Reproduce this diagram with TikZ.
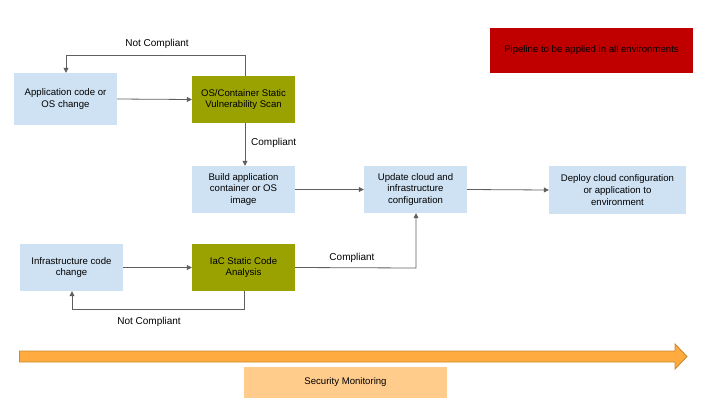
\documentclass[tikz,border=0pt]{standalone}
\usepackage{fontspec}
\setmainfont{Liberation Sans}
\usetikzlibrary{arrows.meta}
\definecolor{lblue}{HTML}{CFE2F3}
\definecolor{olive}{HTML}{99A200}
\definecolor{redbox}{HTML}{C00000}
\definecolor{arrgray}{HTML}{5F5F5F}
\definecolor{orfill}{HTML}{FFAB40}
\definecolor{ordraw}{HTML}{C98A2C}
\definecolor{secfill}{HTML}{FFCC8C}
\begin{document}
\begin{tikzpicture}[x=1pt,y=-1pt,
  every node/.style={font=\fontsize{9.6}{11.6}\selectfont, align=center, inner sep=0pt},
  boxb/.style={fill=lblue, draw=none},
  boxo/.style={fill=olive, draw=none},
  conn/.style={draw=arrgray, line width=0.8pt, -{Triangle[length=5pt,width=5pt]}},
  lbl/.style={font=\fontsize{10}{12}\selectfont}]
\useasboundingbox (0,0) rectangle (720,405);
% boxes
\node[boxb, minimum width=103pt, minimum height=52pt] (app) at (65.5,99) {Application code or\\OS change};
\node[boxo, minimum width=103pt, minimum height=47pt] (scan) at (243.5,99.5) {OS/Container Static\\Vulnerability Scan};
\node[boxb, minimum width=103pt, minimum height=47pt] (build) at (243.5,189.5) {Build application\\container or OS\\image};
\node[boxb, minimum width=103pt, minimum height=47pt] (upd) at (415.5,189.5) {Update cloud and\\infrastructure\\configuration};
\node[boxb, minimum width=137pt, minimum height=48pt] (dep) at (617.5,190) {Deploy cloud configuration\\or application to\\environment};
\node[boxb, minimum width=103pt, minimum height=47pt] (infra) at (71.5,267.5) {Infrastructure code\\change};
\node[boxo, minimum width=103pt, minimum height=47pt] (iac) at (243.5,267.5) {IaC Static Code\\Analysis};
\node[fill=redbox, minimum width=203pt, minimum height=45pt] (red) at (591.5,50.5) {Pipeline to be applied in all environments};
% connectors
\coordinate (c1) at (245,55);
\coordinate (c2) at (66,55);
\draw[conn] (scan.north -| c1) -- (c1) -- (c2) -- (app.north -| c2);
\node[lbl] (nc1) at (157,44) {Not Compliant};
\draw[conn] (app.east) -- (scan.west);
\draw[conn] (scan.south -| c1) -- (build.north -| c1);
\node[lbl, anchor=west] (cp1) at (251,143) {Compliant};
\draw[conn] (build.east) -- (upd.west);
\draw[conn] (upd.east) -- (dep.west);
\draw[conn] (infra.east) -- (iac.west);
\coordinate (c3) at (416,268);
\draw[conn] (iac.east) -- (c3) -- (upd.south -| c3);
\node[lbl] (cp2) at (352,258) {Compliant};
\coordinate (c4) at (244.5,309);
\coordinate (c5) at (72,309);
\draw[conn] (iac.south -| c4) -- (c4) -- (c5) -- (infra.south -| c5);
\node[lbl] (nc2) at (149,322) {Not Compliant};
% timeline arrow
\draw[fill=orfill, draw=ordraw, line width=0.9pt, line join=miter]
  (19.5,351) -- (675,351) -- (675,344) -- (687,356.5) -- (675,369) -- (675,362) -- (19.5,362) -- cycle;
\node[fill=secfill, minimum width=203pt, minimum height=31pt] (sec) at (345.5,382.5) {Security Monitoring};
\end{tikzpicture}
\end{document}
